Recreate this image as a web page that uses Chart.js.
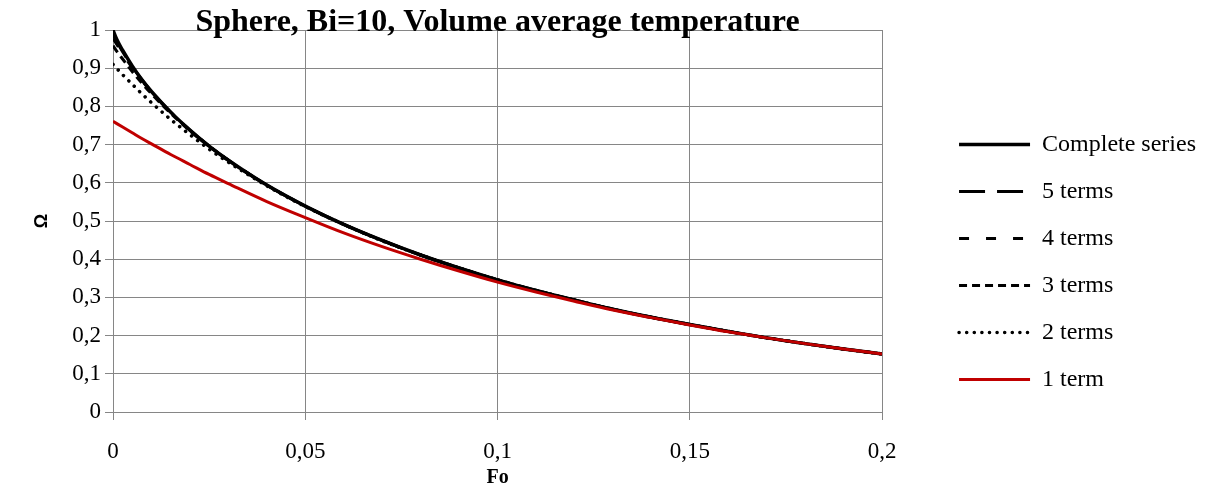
<!DOCTYPE html>
<html>
<head>
<meta charset="utf-8">
<script src="https://cdn.jsdelivr.net/npm/chart.js@4"></script>
<style>
    body { margin: 0; background: #fff; }
</style>
</head>
<body>
<canvas id="myChart" width="1214" height="495"></canvas>
<script>
// Fo values (x axis)
const fo = [0, 0.001, 0.0025, 0.005, 0.0075, 0.01, 0.015, 0.02, 0.025, 0.03,
    0.04, 0.05, 0.06, 0.07, 0.08, 0.09, 0.1, 0.11, 0.12, 0.13, 0.14, 0.15,
    0.16, 0.17, 0.18, 0.19, 0.2];

// Omega values
const complete = [1.000, 0.975, 0.947, 0.906, 0.870, 0.839, 0.785, 0.738, 0.696, 0.659,
    0.594, 0.539, 0.491, 0.449, 0.411, 0.377, 0.346, 0.318, 0.293, 0.269, 0.248, 0.229,
    0.211, 0.194, 0.179, 0.165, 0.152];
const terms5 = [0.988, 0.969, 0.943, 0.904, 0.870, 0.839, 0.785, 0.738, 0.696, 0.659,
    0.594, 0.539, 0.491, 0.449, 0.411, 0.377, 0.346, 0.318, 0.293, 0.269, 0.248, 0.229,
    0.211, 0.194, 0.179, 0.165, 0.152];
const terms4 = [0.978, 0.962, 0.938, 0.901, 0.868, 0.838, 0.784, 0.738, 0.696, 0.659,
    0.594, 0.539, 0.491, 0.449, 0.411, 0.377, 0.346, 0.318, 0.293, 0.269, 0.248, 0.229,
    0.211, 0.194, 0.179, 0.165, 0.152];
const terms3 = [0.959, 0.944, 0.924, 0.891, 0.861, 0.833, 0.782, 0.736, 0.696, 0.659,
    0.594, 0.539, 0.491, 0.449, 0.411, 0.377, 0.346, 0.318, 0.293, 0.269, 0.248, 0.229,
    0.211, 0.194, 0.179, 0.165, 0.152];
const terms2 = [0.910, 0.899, 0.883, 0.858, 0.833, 0.810, 0.766, 0.726, 0.688, 0.654,
    0.592, 0.538, 0.491, 0.448, 0.411, 0.377, 0.346, 0.318, 0.293, 0.269, 0.248, 0.229,
    0.211, 0.194, 0.179, 0.165, 0.152];
const term1 = [0.761, 0.755, 0.746, 0.731, 0.716, 0.702, 0.674, 0.648, 0.622, 0.598,
    0.551, 0.509, 0.469, 0.433, 0.400, 0.369, 0.340, 0.314, 0.290, 0.267, 0.247, 0.228,
    0.210, 0.194, 0.179, 0.165, 0.152];

const seriesNames = ['Complete series', '5 terms', '4 terms', '3 terms', '2 terms', '1 term'];

document.addEventListener("DOMContentLoaded", function () {
    const ctx = document.getElementById('myChart').getContext('2d');
    const grey = '#868686';

    Chart.defaults.font.family = "'Liberation Serif', 'Times New Roman', serif";
    Chart.defaults.color = '#000';

    function pts(values) {
        return values.map((v, i) => ({ x: fo[i], y: v }));
    }

    function comma(value) {
        return String(Math.round(value * 1000) / 1000).replace('.', ',');
    }

    const data = {
        datasets: [
            { label: seriesNames[0], data: pts(complete), borderColor: '#000', borderWidth: 3.5, order: 5 },
            { label: seriesNames[1], data: pts(terms5), borderColor: '#000', borderWidth: 3, borderDash: [26, 12], order: 4 },
            { label: seriesNames[2], data: pts(terms4), borderColor: '#000', borderWidth: 3, borderDash: [10, 17], order: 3 },
            { label: seriesNames[3], data: pts(terms3), borderColor: '#000', borderWidth: 3, borderDash: [8, 5], order: 2 },
            { label: seriesNames[4], data: pts(terms2), borderColor: '#000', borderWidth: 3.5, borderDash: [0.1, 7.5], borderCapStyle: 'round', order: 1 },
            { label: seriesNames[5], data: pts(term1), borderColor: '#C00000', borderWidth: 3, order: 0 }
        ]
    };

    // legend samples: take dash / width / cap from the dataset line, not the point
    function legendLabels(chart) {
        const items = Chart.defaults.plugins.legend.labels.generateLabels(chart);
        items.forEach(item => {
            const ds = chart.data.datasets[item.datasetIndex];
            item.lineDash = ds.borderDash || [];
            item.lineCap = ds.borderCapStyle || 'butt';
            item.lineWidth = ds.borderWidth;
            item.strokeStyle = ds.borderColor;
        });
        return items;
    }

    new Chart(ctx, {
        type: 'line',
        data: data,
        options: {
            responsive: false,
            animation: false,
            layout: { padding: { right: 8 } },
            elements: {
                point: { radius: 0 },
                line: { cubicInterpolationMode: 'monotone', fill: false }
            },
            plugins: {
                title: {
                    display: true,
                    text: 'Sphere, Bi=10, Volume average temperature',
                    fullSize: false,
                    color: '#000',
                    font: { size: 32, weight: 'bold', lineHeight: 1 },
                    padding: { top: 7, bottom: -9 }
                },
                legend: {
                    position: 'right',
                    title: { display: true, text: ' ', font: { size: 20, lineHeight: 1.45 }, padding: 0 },
                    labels: {
                        usePointStyle: true,
                        pointStyle: 'line',
                        pointStyleWidth: 71,
                        padding: 23,
                        color: '#000',
                        font: { size: 24 },
                        generateLabels: legendLabels,
                        sort: (a, b) => a.datasetIndex - b.datasetIndex
                    }
                },
                tooltip: { enabled: false }
            },
            scales: {
                x: {
                    type: 'linear',
                    min: 0,
                    max: 0.2,
                    afterFit: function (scale) { scale.height = 83; },
                    grid: { color: grey, tickColor: grey, tickLength: 8 },
                    border: { color: grey },
                    ticks: {
                        stepSize: 0.05,
                        padding: 18,
                        font: { size: 23 },
                        callback: comma
                    },
                    title: {
                        display: true,
                        text: 'Fo',
                        font: { size: 20, weight: 'bold' },
                        padding: { top: 0, bottom: 5 }
                    }
                },
                y: {
                    min: 0,
                    max: 1,
                    afterFit: function (scale) { scale.width = 113; },
                    grid: { color: grey, tickColor: grey, tickLength: 8 },
                    border: { color: grey },
                    ticks: {
                        stepSize: 0.1,
                        padding: 4,
                        font: { size: 23 },
                        callback: comma
                    },
                    title: {
                        display: true,
                        text: 'Ω',
                        font: { family: "'Liberation Sans', Arial, sans-serif", size: 18, weight: 'bold' },
                        padding: { top: 31, bottom: 0 }
                    }
                },
                // hidden spacer between plot and legend
                gap: {
                    axis: 'y',
                    position: 'right',
                    display: false,
                    afterFit: function (scale) { scale.width = 54; }
                }
            }
        }
    });
});
</script>
</body>
</html>
